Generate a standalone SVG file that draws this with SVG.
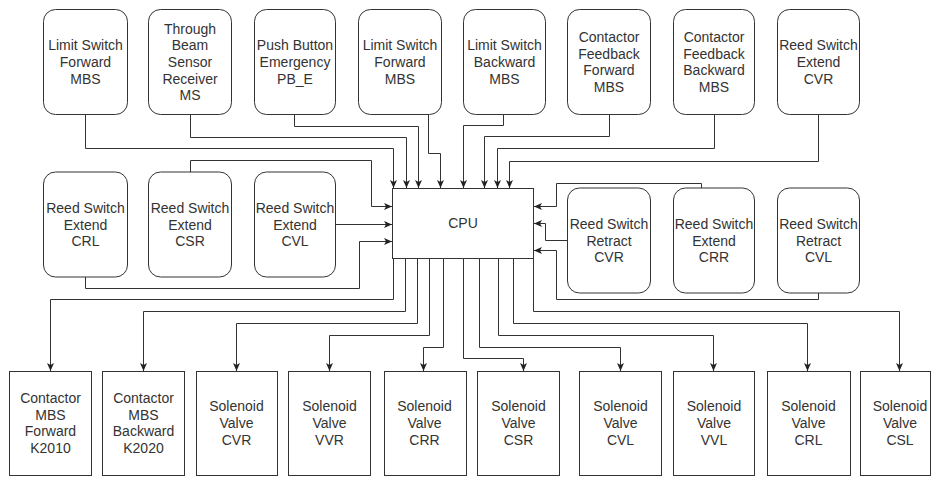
<svg xmlns="http://www.w3.org/2000/svg" width="932" height="477" viewBox="0 0 932 477">
<style>
.bg{fill:#fff}
.rn{fill:#fff;stroke:#333;stroke-width:1}
.sq{fill:#fff;stroke:#333;stroke-width:1}
.t{font-family:"Liberation Sans",Arial,sans-serif;font-size:14px;fill:#333;text-anchor:middle}
.c{fill:none;stroke:#333;stroke-width:1;marker-end:url(#ah)}
</style>
<defs>
<marker id="ah" viewBox="0 0 8 8" refX="8" refY="4" markerWidth="8" markerHeight="8" markerUnits="userSpaceOnUse" orient="auto">
<path d="M0,0.5 L8,4 L0,7.5 L2,4 Z" fill="#222"/>
</marker>
</defs>
<rect class="bg" x="0" y="0" width="932" height="477"/>

<g id="connectors">
<path class="c" d="M85.5,114.5 V148.5 H393.5 V188"/>
<path class="c" d="M190.5,114.5 V137.5 H406.5 V188"/>
<path class="c" d="M294.5,114.5 V126.5 H418.5 V188"/>
<path class="c" d="M428.5,114.5 V153.5 H440.5 V188"/>
<path class="c" d="M503.5,114.5 V125.5 H463.5 V188"/>
<path class="c" d="M609.5,114.5 V136.5 H484.5 V188"/>
<path class="c" d="M714.5,114.5 V148.5 H497.5 V188"/>
<path class="c" d="M818.5,114.5 V161.5 H509.5 V188"/>

<path class="c" d="M190.5,172 V160.5 H371.5 V206.5 H392"/>
<path class="c" d="M335,224.5 H392"/>
<path class="c" d="M85.5,277 V288.5 H359.5 V241.5 H392"/>

<path class="c" d="M701.5,188 V183.5 H556.5 V206.5 H534"/>
<path class="c" d="M567,240.5 H545.5 V223.5 H534"/>
<path class="c" d="M818.5,293 V299.5 H556.5 V250.5 H534"/>

<path class="c" d="M393.5,258 V299.5 H50.5 V371"/>
<path class="c" d="M405.5,258 V311.5 H143.5 V371"/>
<path class="c" d="M417.5,258 V323.5 H236.5 V371"/>
<path class="c" d="M429.5,258 V335.5 H329.5 V371"/>
<path class="c" d="M443.5,258 V347.5 H423.5 V371"/>
<path class="c" d="M463.5,258 V358.5 H523.5 V371"/>
<path class="c" d="M479.5,258 V347.5 H620.5 V371"/>
<path class="c" d="M498.5,258 V335.5 H713.5 V371"/>
<path class="c" d="M513.5,258 V323.5 H807.5 V371"/>
<path class="c" d="M533.5,258 V311.5 H899.5 V371"/>
</g>

<g id="cpu">
<rect class="sq" x="392.5" y="188.5" width="141" height="70"/>
<text class="t" x="463" y="228">CPU</text>
</g>

<g id="top1"><rect class="rn" x="43.5" y="9.5" width="84" height="105" rx="12"/>
<text class="t" x="85.5" y="50.3"><tspan x="85.5">Limit Switch</tspan><tspan x="85.5" dy="16.7">Forward</tspan><tspan x="85.5" dy="16.7">MBS</tspan></text></g>
<g id="top2"><rect class="rn" x="148.5" y="9.5" width="83" height="105" rx="12"/>
<text class="t" x="190" y="33.6"><tspan x="190">Through</tspan><tspan x="190" dy="16.7">Beam</tspan><tspan x="190" dy="16.7">Sensor</tspan><tspan x="190" dy="16.7">Receiver</tspan><tspan x="190" dy="16.7">MS</tspan></text></g>
<g id="top3"><rect class="rn" x="254.5" y="9.5" width="81" height="105" rx="12"/>
<text class="t" x="295" y="50.3"><tspan x="295">Push Button</tspan><tspan x="295" dy="16.7">Emergency</tspan><tspan x="295" dy="16.7">PB_E</tspan></text></g>
<g id="top4"><rect class="rn" x="358.5" y="9.5" width="83" height="105" rx="12"/>
<text class="t" x="400" y="50.3"><tspan x="400">Limit Switch</tspan><tspan x="400" dy="16.7">Forward</tspan><tspan x="400" dy="16.7">MBS</tspan></text></g>
<g id="top5"><rect class="rn" x="463.5" y="9.5" width="82" height="105" rx="12"/>
<text class="t" x="504.5" y="50.3"><tspan x="504.5">Limit Switch</tspan><tspan x="504.5" dy="16.7">Backward</tspan><tspan x="504.5" dy="16.7">MBS</tspan></text></g>
<g id="top6"><rect class="rn" x="567.5" y="9.5" width="83" height="105" rx="12"/>
<text class="t" x="609" y="42"><tspan x="609">Contactor</tspan><tspan x="609" dy="16.7">Feedback</tspan><tspan x="609" dy="16.7">Forward</tspan><tspan x="609" dy="16.7">MBS</tspan></text></g>
<g id="top7"><rect class="rn" x="673.5" y="9.5" width="81" height="105" rx="12"/>
<text class="t" x="714" y="42"><tspan x="714">Contactor</tspan><tspan x="714" dy="16.7">Feedback</tspan><tspan x="714" dy="16.7">Backward</tspan><tspan x="714" dy="16.7">MBS</tspan></text></g>
<g id="top8"><rect class="rn" x="777.5" y="9.5" width="82" height="105" rx="12"/>
<text class="t" x="818.5" y="50.3"><tspan x="818.5">Reed Switch</tspan><tspan x="818.5" dy="16.7">Extend</tspan><tspan x="818.5" dy="16.7">CVR</tspan></text></g>

<g id="mid1"><rect class="rn" x="43.5" y="172" width="84" height="105" rx="12"/>
<text class="t" x="85.5" y="212.8"><tspan x="85.5">Reed Switch</tspan><tspan x="85.5" dy="16.7">Extend</tspan><tspan x="85.5" dy="16.7">CRL</tspan></text></g>
<g id="mid2"><rect class="rn" x="148.5" y="172" width="83" height="105" rx="12"/>
<text class="t" x="190" y="212.8"><tspan x="190">Reed Switch</tspan><tspan x="190" dy="16.7">Extend</tspan><tspan x="190" dy="16.7">CSR</tspan></text></g>
<g id="mid3"><rect class="rn" x="254.5" y="172" width="81" height="105" rx="12"/>
<text class="t" x="295" y="212.8"><tspan x="295">Reed Switch</tspan><tspan x="295" dy="16.7">Extend</tspan><tspan x="295" dy="16.7">CVL</tspan></text></g>
<g id="mid4"><rect class="rn" x="567.5" y="188" width="83" height="105" rx="12"/>
<text class="t" x="609" y="228.8"><tspan x="609">Reed Switch</tspan><tspan x="609" dy="16.7">Retract</tspan><tspan x="609" dy="16.7">CVR</tspan></text></g>
<g id="mid5"><rect class="rn" x="673.5" y="188" width="81" height="105" rx="12"/>
<text class="t" x="714" y="228.8"><tspan x="714">Reed Switch</tspan><tspan x="714" dy="16.7">Extend</tspan><tspan x="714" dy="16.7">CRR</tspan></text></g>
<g id="mid6"><rect class="rn" x="777.5" y="188" width="82" height="105" rx="12"/>
<text class="t" x="818.5" y="228.8"><tspan x="818.5">Reed Switch</tspan><tspan x="818.5" dy="16.7">Retract</tspan><tspan x="818.5" dy="16.7">CVL</tspan></text></g>

<g id="bot1"><rect class="sq" x="9.5" y="371.5" width="82" height="104"/>
<text class="t" x="50.5" y="403"><tspan x="50.5">Contactor</tspan><tspan x="50.5" dy="16.7">MBS</tspan><tspan x="50.5" dy="16.7">Forward</tspan><tspan x="50.5" dy="16.7">K2010</tspan></text></g>
<g id="bot2"><rect class="sq" x="102.5" y="371.5" width="82" height="104"/>
<text class="t" x="143.5" y="403"><tspan x="143.5">Contactor</tspan><tspan x="143.5" dy="16.7">MBS</tspan><tspan x="143.5" dy="16.7">Backward</tspan><tspan x="143.5" dy="16.7">K2020</tspan></text></g>
<g id="bot3"><rect class="sq" x="196.5" y="371.5" width="81" height="104"/>
<text class="t" x="236.5" y="411.3"><tspan x="236.5">Solenoid</tspan><tspan x="236.5" dy="16.7">Valve</tspan><tspan x="236.5" dy="16.7">CVR</tspan></text></g>
<g id="bot4"><rect class="sq" x="288.5" y="371.5" width="82" height="104"/>
<text class="t" x="329.5" y="411.3"><tspan x="329.5">Solenoid</tspan><tspan x="329.5" dy="16.7">Valve</tspan><tspan x="329.5" dy="16.7">VVR</tspan></text></g>
<g id="bot5"><rect class="sq" x="384.5" y="371.5" width="82" height="104"/>
<text class="t" x="424.5" y="411.3"><tspan x="424.5">Solenoid</tspan><tspan x="424.5" dy="16.7">Valve</tspan><tspan x="424.5" dy="16.7">CRR</tspan></text></g>
<g id="bot6"><rect class="sq" x="477.5" y="371.5" width="82" height="104"/>
<text class="t" x="518.5" y="411.3"><tspan x="518.5">Solenoid</tspan><tspan x="518.5" dy="16.7">Valve</tspan><tspan x="518.5" dy="16.7">CSR</tspan></text></g>
<g id="bot7"><rect class="sq" x="579.5" y="371.5" width="82" height="104"/>
<text class="t" x="620.5" y="411.3"><tspan x="620.5">Solenoid</tspan><tspan x="620.5" dy="16.7">Valve</tspan><tspan x="620.5" dy="16.7">CVL</tspan></text></g>
<g id="bot8"><rect class="sq" x="673.5" y="371.5" width="81" height="104"/>
<text class="t" x="714" y="411.3"><tspan x="714">Solenoid</tspan><tspan x="714" dy="16.7">Valve</tspan><tspan x="714" dy="16.7">VVL</tspan></text></g>
<g id="bot9"><rect class="sq" x="767.5" y="371.5" width="83" height="104"/>
<text class="t" x="808.5" y="411.3"><tspan x="808.5">Solenoid</tspan><tspan x="808.5" dy="16.7">Valve</tspan><tspan x="808.5" dy="16.7">CRL</tspan></text></g>
<g id="bot10"><rect class="sq" x="860.5" y="371.5" width="70" height="104"/>
<text class="t" x="900" y="411.3"><tspan x="900">Solenoid</tspan><tspan x="900" dy="16.7">Valve</tspan><tspan x="900" dy="16.7">CSL</tspan></text></g>
</svg>
